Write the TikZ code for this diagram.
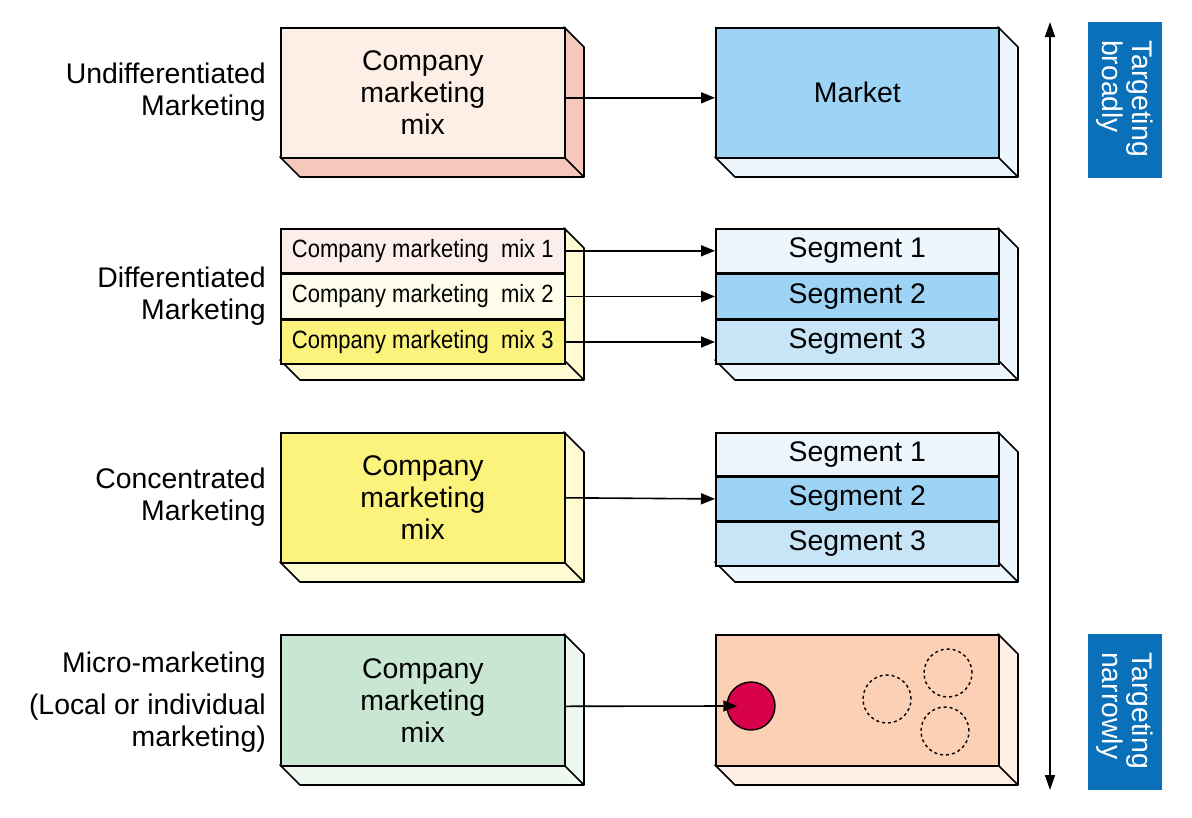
\documentclass[tikz,border=0pt]{standalone}
\usepackage{fontspec}
\setmainfont{Liberation Sans}
\usetikzlibrary{calc,arrows.meta}
\definecolor{pinkF}{HTML}{FDEEE6}
\definecolor{pinkS}{HTML}{F6C8BC}
\definecolor{blueF}{HTML}{9DD4F5}
\definecolor{blueS}{HTML}{EEF6FD}
\definecolor{blueM}{HTML}{C8E5F8}
\definecolor{yelF}{HTML}{FBF37C}
\definecolor{yelS}{HTML}{FEFAD2}
\definecolor{creamF}{HTML}{FEFDEC}
\definecolor{pinkL}{HTML}{FCEEEA}
\definecolor{greenF}{HTML}{C8E6D1}
\definecolor{greenS}{HTML}{EFF7F1}
\definecolor{peachF}{HTML}{FBD0B4}
\definecolor{peachS}{HTML}{FEEEE4}
\definecolor{redC}{HTML}{D8004A}
\definecolor{blueL}{HTML}{0A70BA}
\newcommand\slab[4]{%
  \filldraw[fill=#4, line width=1.6pt, line join=round]
    #1 -- ++(20,20) -- ($#2+(20,20)$) -- ($#3+(20,20)$) -- #3 -- #2 -- cycle;
  \draw[line width=1.6pt] #2 -- ++(20,20);}
\tikzset{
  x=1pt, y=-1pt,
  txt/.style={font=\fontsize{28.4}{32}\selectfont, inner sep=0pt},
  lab/.style={txt, align=right, anchor=east},
  frontL/.style={draw, line width=1.6pt, minimum width=284pt, anchor=north west, inner sep=0pt,
     font=\fontsize{28.4}{32}\selectfont, align=center},
  frontR/.style={frontL, minimum width=283pt},
  mixs/.style={frontL, minimum height=44pt, font=\fontsize{25}{28}\selectfont},
  segs/.style={frontR, minimum height=44pt},
  conn/.style={line width=1.6pt, -{Triangle[length=14pt,width=11pt]}},
  bluebox/.style={fill=blueL, text=white, rotate=-90, minimum width=156pt, minimum height=74pt,
     text width=120pt, inner xsep=17pt, align=left, font=\fontsize{28.4}{30}\selectfont},
  dcirc/.style={draw, circle, dashed, dash pattern=on 3pt off 3pt, line width=1.4pt, minimum size=48pt, inner sep=0pt}
}
\begin{document}
\begin{tikzpicture}
\useasboundingbox (0,0) rectangle (1192,817);
% ---------- Row 1
\slab{(564,27)}{(564,157)}{(280,157)}{pinkS}
\node[frontL, fill=pinkF, minimum height=130pt] (L1) at (280,27) {Company\\marketing\\mix};
\slab{(998,27)}{(998,157)}{(715,157)}{blueS}
\node[frontR, fill=blueF, minimum height=130pt] (R1) at (715,27) {Market};
\draw[conn] ([yshift=-5pt]L1.east) -- ([yshift=-5pt]L1.east -| R1.west);
\node[lab] (T1) at (266,92) {Undifferentiated\\Marketing};
% ---------- Row 2
\slab{(564,228)}{(564,360)}{(280,360)}{yelS}
\node[mixs, fill=pinkL] (M1) at (280,228) {\scalebox{0.88}[1]{Company marketing\ \ mix 1}};
\node[mixs, fill=creamF] (M2) at (M1.south west) {\scalebox{0.88}[1]{Company marketing\ \ mix 2}};
\node[mixs, fill=yelF] (M3) at (M2.south west) {\scalebox{0.88}[1]{Company marketing\ \ mix 3}};
\slab{(998,228)}{(998,360)}{(715,360)}{blueS}
\node[segs, fill=blueS] (S1) at (715,228) {Segment 1};
\node[segs, fill=blueF] (S2) at (S1.south west) {Segment 2};
\node[segs, fill=blueM] (S3) at (S2.south west) {Segment 3};
\draw[conn] (M1.east) -- (S1.west);
\draw[conn] (M2.east) -- (S2.west);
\draw[conn] (M3.east) -- (S3.west);
\node[lab] (T2) at (266,296) {Differentiated\\Marketing};
% ---------- Row 3
\slab{(564,432)}{(564,562)}{(280,562)}{yelS}
\node[frontL, fill=yelF, minimum height=130pt] (L3) at (280,432) {Company\\marketing\\mix};
\slab{(998,432)}{(998,562)}{(715,562)}{blueS}
\node[segs, fill=blueS, minimum height=43pt] (U1) at (715,432) {Segment 1};
\node[segs, fill=blueF, minimum height=43pt] (U2) at (U1.south west) {Segment 2};
\node[segs, fill=blueM, minimum height=44pt] (U3) at (U2.south west) {Segment 3};
\draw[conn] (L3.east) -- (U2.west);
\node[lab] (T3) at (266,497) {Concentrated\\Marketing};
% ---------- Row 4
\slab{(564,634)}{(564,765)}{(280,765)}{greenS}
\node[frontL, fill=greenF, minimum height=131pt] (L4) at (280,634) {Company\\marketing\\mix};
\slab{(998,634)}{(998,765)}{(715,765)}{peachS}
\node[frontR, fill=peachF, minimum height=131pt] (R4) at (715,634) {};
\node[circle, draw, line width=1.4pt, fill=redC, minimum size=48pt, inner sep=0pt] (C0) at (751,706) {};
\node[dcirc] (C1) at (887,699) {};
\node[dcirc] (C2) at (948,673) {};
\node[dcirc] (C3) at (945,731) {};
\draw[conn, shorten >=-11pt] ([yshift=-6pt]L4.east) -- (C0.west);
\node[lab] (T4a) at (266,665) {Micro-marketing};
\node[lab] (T4b) at (266,723) {(Local or individual\\marketing)};
% ---------- right side
\coordinate (Atop) at (1050,22);
\coordinate (Abot) at (1050,790);
\draw[line width=1.5pt, {Triangle[length=15pt,width=10pt]}-{Triangle[length=15pt,width=10pt]}] (Atop) -- (Abot);
\node[bluebox] (B1) at (1125,100) {Targeting\\broadly};
\node[bluebox] (B2) at (1125,712) {Targeting\\narrowly};
\end{tikzpicture}
\end{document}
